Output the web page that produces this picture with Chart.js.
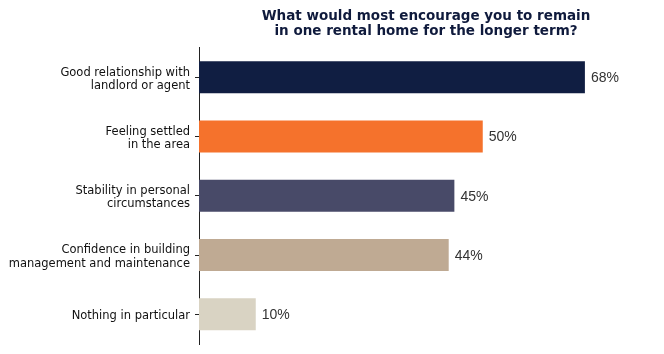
<!DOCTYPE html>
<html>
<head>
<meta charset="utf-8">
<script src="https://cdn.jsdelivr.net/npm/chart.js@4/dist/chart.umd.min.js"></script>
<style>
  html, body { margin: 0; padding: 0; background: #ffffff; }
  #wrap { width: 664px; height: 354px; }
</style>
</head>
<body>
<div id="wrap"><canvas id="chart"></canvas></div>
<script>
const categories = [
  ['Good relationship with', 'landlord or agent'],
  ['Feeling settled', 'in the area'],
  ['Stability in personal', 'circumstances'],
  ['Confidence in building', 'management and maintenance'],
  'Nothing in particular',
]
const values = [68, 50, 45, 44, 10]
const barColors = ['#101e42', '#f5722c', '#484a68', '#bfaa93', '#d9d3c3']
const titleLines = [
  'What would most encourage you to remain',
  'in one rental home for the longer term?',
]

Chart.defaults.font.family = "'DejaVu Sans', sans-serif"
Chart.defaults.color = '#1a1a1a'

// percent labels at the end of each bar
const valueLabels = {
  id: 'valueLabels',
  afterDatasetsDraw(chart) {
    const { ctx } = chart
    const meta = chart.getDatasetMeta(0)
    ctx.save()
    ctx.font = "14px 'Liberation Sans', Arial, sans-serif"
    ctx.fillStyle = '#333333'
    ctx.textAlign = 'left'
    ctx.textBaseline = 'middle'
    meta.data.forEach((bar, i) => {
      ctx.fillText(values[i] + '%', bar.x + 6, bar.y + 1)
    })
    ctx.restore()
  },
}

new Chart(document.getElementById('chart'), {
  type: 'bar',
  data: {
    labels: categories,
    datasets: [
      {
        data: values,
        backgroundColor: barColors,
        borderWidth: 0,
        barPercentage: 0.54,
        categoryPercentage: 1,
      },
    ],
  },
  options: {
    indexAxis: 'y',
    responsive: true,
    maintainAspectRatio: false,
    animation: false,
    layout: {
      padding: { left: 0, right: 11, top: 0, bottom: 10 },
    },
    plugins: {
      legend: { display: false },
      tooltip: { enabled: false },
      title: {
        display: true,
        text: titleLines,
        fullSize: false,
        color: '#0f1a3c',
        font: { size: 13.5, weight: 'bold', lineHeight: 1.1 },
        padding: { top: 9, bottom: 9 },
      },
    },
    scales: {
      x: {
        display: false,
        min: 0,
        max: 80,
      },
      y: {
        afterFit(scale) {
          scale.width = 199
          scale.paddingTop = 0
          scale.paddingBottom = 0
        },
        border: { display: true, color: '#222222', width: 1 },
        grid: {
          display: true,
          offset: false,
          drawOnChartArea: false,
          drawTicks: true,
          tickLength: 4,
          color: '#222222',
        },
        ticks: {
          color: '#111111',
          padding: 5,
          labelOffset: 2,
          font: { size: 11.5, lineHeight: 1.15 },
        },
      },
    },
  },
  plugins: [valueLabels],
})
</script>
</body>
</html>
